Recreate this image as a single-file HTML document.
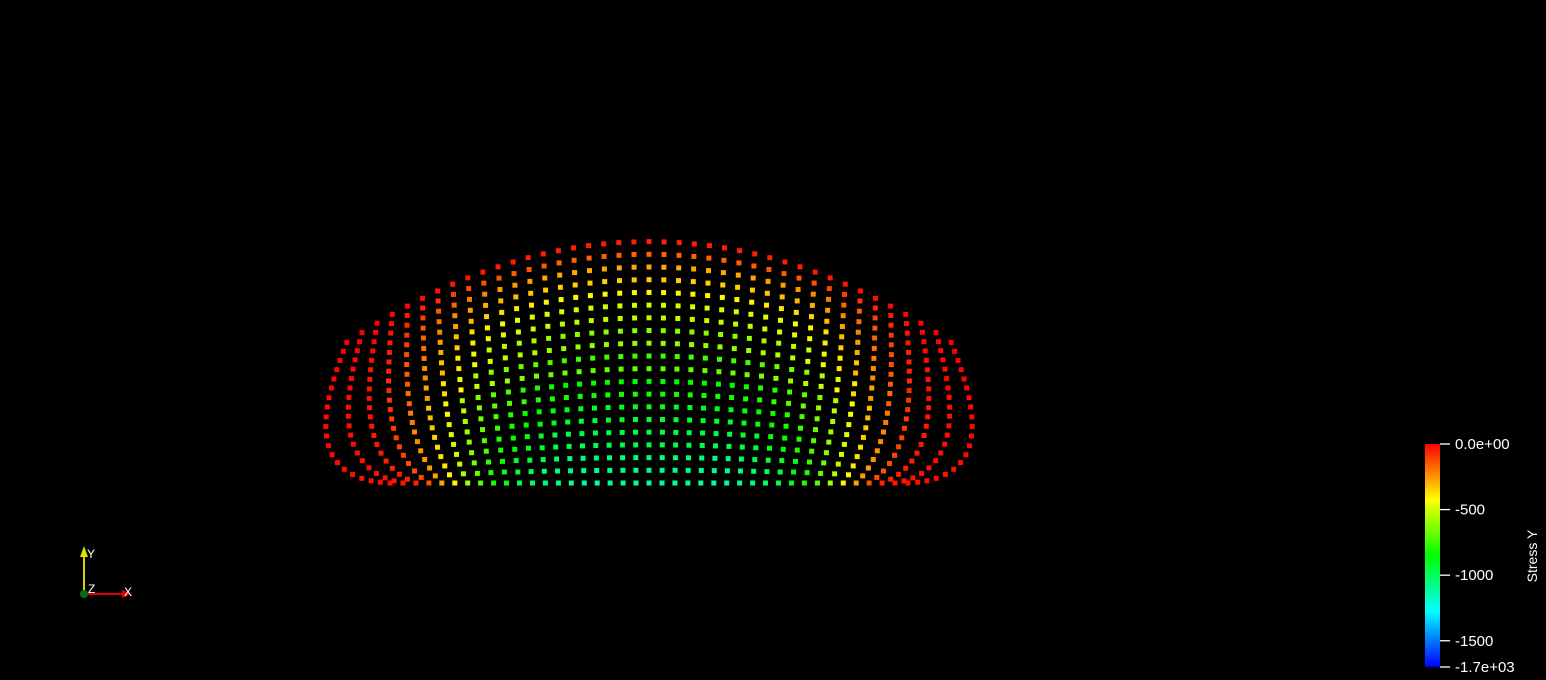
<!DOCTYPE html>
<html><head><meta charset="utf-8"><style>
html,body{margin:0;padding:0;background:#000;width:1546px;height:680px;overflow:hidden;font-family:"Liberation Sans",sans-serif}
svg{display:block}
</style></head><body>
<svg id="chart" width="1546" height="680" viewBox="0 0 1546 680">
<rect x="0" y="0" width="1546" height="680" fill="#000"/>
<g id="points"></g>
<defs><linearGradient id="cmap" x1="0" y1="0" x2="0" y2="1">
<stop offset="0" stop-color="#ff0000"/><stop offset="0.25" stop-color="#ffff00"/><stop offset="0.5" stop-color="#00ff00"/><stop offset="0.75" stop-color="#00ffff"/><stop offset="1" stop-color="#0000ff"/></linearGradient></defs>
<g>
<rect x="1425" y="444" width="15" height="223" fill="url(#cmap)"/>
<g id="legticks"></g>
<text x="1537" y="556" fill="#fff" font-size="14" text-anchor="middle" transform="rotate(-90 1537 556)">Stress Y</text>
</g>
<g>
<line x1="84" y1="594" x2="84" y2="556" stroke="#d8d000" stroke-width="2"/>
<polygon points="80,557 88,557 84,546" fill="#e0e000"/>
<line x1="84" y1="594" x2="124" y2="594" stroke="#e00000" stroke-width="2"/>
<polygon points="122,590 122,598 131,594" fill="#e00000"/>
<circle cx="84" cy="594" r="4" fill="#0a6a1a"/>
<text x="87" y="558" fill="#fff" font-size="12">Y</text>
<text x="88" y="593" fill="#fff" font-size="12">Z</text>
<text x="124" y="596" fill="#fff" font-size="12">X</text>
</g>
</svg>
<script>
// legend data
const legendMin = -1700;
const legendMax = 0;
const legendTicks = [0, -500, -1000, -1500, -1700];
const legendLabels = ["0.0e+00", "-500", "-1000", "-1500", "-1.7e+03"];
// stress profile along rows (top to bottom) for interior columns
const rowStress = [-50,-160,-280,-350,-420,-500,-540,-620,-600,-750,-680,-850,-820,-900,-920,-960,-980,-1040,-1080,-1100];
// attenuation per column distance from center (0..20)
const colScale = [1,1,1,1,1,1,1,0.98,0.95,0.92,0.88,0.82,0.74,0.64,0.52,0.38,0.25,0.12,0.05,0.03,0.02];

const NS = "http://www.w3.org/2000/svg";
const cx = 649, yTop = 241, yBot = 483, halfBot = 259, halfTop = 302, arcDrop = 101;
function colorFor(v){
  let f = (legendMax - v)/(legendMax - legendMin); f = Math.max(0,Math.min(1,f));
  return "hsl(" + (f*240).toFixed(0) + ",100%,50%)";
}
function bez(p0,p1,p2,p3,t){
  const u=1-t;
  return [u*u*u*p0[0]+3*u*u*t*p1[0]+3*u*t*t*p2[0]+t*t*t*p3[0],
          u*u*u*p0[1]+3*u*u*t*p1[1]+3*u*t*t*p2[1]+t*t*t*p3[1]];
}
const g = document.getElementById("points");
const N = colScale.length - 1, R = rowStress.length;
for (let i = -N; i <= N; i++) {
  const s = i / N, a = Math.abs(s), sg = i < 0 ? -1 : 1;
  const P0 = [cx + halfTop*s, yTop + arcDrop*s*s];
  const P3 = [cx + halfBot*s, yBot];
  const w = Math.pow(a,4.5);
  const dx = (P3[0]-P0[0])/3, dy = (P3[1]-P0[1])/3;
  const P1 = [P0[0] + dx*(1-w) + sg*23*w, P0[1] + dy*(1-w) + 58*w];
  const P2 = [P3[0] - dx*(1-w) + sg*90*w, P3[1] - dy*(1-w) - 4*w];
  const M = 400, pts = [], cum = [0];
  for (let k = 0; k <= M; k++) pts.push(bez(P0,P1,P2,P3,k/M));
  for (let k = 1; k <= M; k++) cum.push(cum[k-1] + Math.hypot(pts[k][0]-pts[k-1][0], pts[k][1]-pts[k-1][1]));
  const L = cum[M];
  let k = 0;
  for (let j = 0; j < R; j++) {
    const target = L*j/(R-1);
    while (k < M && cum[k+1] < target) k++;
    const p = pts[Math.min(k+1,M)];
    const v = rowStress[j]*colScale[Math.abs(i)];
    const r = document.createElementNS(NS,"rect");
    r.setAttribute("x",(p[0]-2.5).toFixed(1)); r.setAttribute("y",(p[1]-2.5).toFixed(1));
    r.setAttribute("width","5"); r.setAttribute("height","5");
    r.setAttribute("fill",colorFor(v));
    
    
    g.appendChild(r);
  }
}
const lt = document.getElementById("legticks");
function ly(v){ return 444 + (legendMax - v)/(legendMax - legendMin)*223; }
legendTicks.forEach((v,k)=>{
  const y = ly(v);
  const l = document.createElementNS(NS,"line");
  l.setAttribute("x1","1440"); l.setAttribute("x2","1450");
  l.setAttribute("y1",y); l.setAttribute("y2",y);
  l.setAttribute("stroke","#fff"); l.setAttribute("stroke-width","1.3");
  
  
  lt.appendChild(l);
  const tx = document.createElementNS(NS,"text");
  tx.setAttribute("x","1455"); tx.setAttribute("y",y+5);
  tx.setAttribute("fill","#fff"); tx.setAttribute("font-size","15");
  tx.textContent = legendLabels[k];
  
  
  lt.appendChild(tx);
});
</script>
</body></html>
